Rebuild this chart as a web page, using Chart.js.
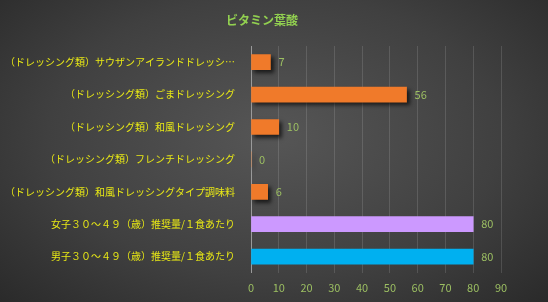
<!DOCTYPE html>
<html>
<head>
<meta charset="utf-8">
<script src="https://cdn.jsdelivr.net/npm/chart.js@4.4.0/dist/chart.umd.min.js"></script>
<style>
    html, body { margin: 0; padding: 0; }
    body {
        width: 548px; height: 302px; overflow: hidden;
        background: radial-gradient(ellipse 75% 85% at 50% 45%, #565656 0%, #404040 55%, #262626 100%);
    }
    #wrap { width: 548px; height: 302px; position: relative; }
</style>
</head>
<body>
<div id="wrap"><canvas id="myChart"></canvas></div>
<script>
const title = 'ビタミン葉酸';
const labels = [
    '（ドレッシング類）サウザンアイランドドレッシ…',
    '（ドレッシング類）ごまドレッシング',
    '（ドレッシング類）和風ドレッシング',
    '（ドレッシング類）フレンチドレッシング',
    '（ドレッシング類）和風ドレッシングタイプ調味料',
    '女子３０～４９（歳）推奨量/１食あたり',
    '男子３０～４９（歳）推奨量/１食あたり'
];
const foodValues = [7, 56, 10, 0, 6, null, null];
const refValues = [null, null, null, null, null, 80, 80];
const xTicks = [0, 10, 20, 30, 40, 50, 60, 70, 80, 90];

const JP = '"Noto Sans CJK JP", "Noto Sans", sans-serif';

// title sits a bit right of the canvas centre, like the original
const titlePlugin = {
    id: 'offsetTitle',
    afterDraw(chart) {
        const ctx = chart.ctx;
        ctx.save();
        ctx.font = 'bold 12px ' + JP;
        ctx.fillStyle = '#92d050';
        ctx.textAlign = 'center';
        ctx.textBaseline = 'middle';
        ctx.fillText(title, 262, 20);
        ctx.restore();
    }
};

// drop shadow on the orange bars only
const shadowPlugin = {
    id: 'barShadow',
    beforeDatasetDraw(chart, args) {
        if (args.index === 0) {
            const ctx = chart.ctx;
            ctx.save();
            ctx.shadowColor = 'rgba(0,0,0,0.65)';
            ctx.shadowBlur = 4;
            ctx.shadowOffsetX = 3;
            ctx.shadowOffsetY = 3;
        }
    },
    afterDatasetDraw(chart, args) {
        if (args.index === 0) chart.ctx.restore();
    }
};

// value labels at the end of each bar
const valueLabels = {
    id: 'valueLabels',
    afterDatasetsDraw(chart) {
        const ctx = chart.ctx;
        ctx.save();
        ctx.font = '11px ' + JP;
        ctx.fillStyle = '#9cbf62';
        ctx.textAlign = 'left';
        ctx.textBaseline = 'middle';
        chart.data.datasets.forEach((ds, i) => {
            chart.getDatasetMeta(i).data.forEach((bar, j) => {
                const v = ds.data[j];
                if (v === null || v === undefined) return;
                ctx.fillText(String(v), bar.x + 8, bar.y);
            });
        });
        ctx.restore();
    }
};

const ctx = document.getElementById('myChart').getContext('2d');
new Chart(ctx, {
    type: 'bar',
    data: {
        labels: labels,
        datasets: [
            {
                data: foodValues,
                backgroundColor: '#f07a2a',
                barThickness: 15
            },
            {
                data: refValues,
                backgroundColor: ['#cc99ff', '#cc99ff', '#cc99ff', '#cc99ff', '#cc99ff', '#cc99ff', '#00b0f0'],
                barThickness: 15
            }
        ]
    },
    options: {
        indexAxis: 'y',
        responsive: true,
        maintainAspectRatio: false,
        animation: false,
        layout: { padding: { left: 4, right: 47, top: 46, bottom: 0 } },
        plugins: {
            legend: { display: false },
            tooltip: { enabled: false },
            title: { display: false }
        },
        scales: {
            x: {
                stacked: true,
                min: 0,
                max: 90,
                afterBuildTicks: scale => { scale.ticks = xTicks.map(v => ({ value: v })); },
                grid: { color: 'rgba(255,255,255,0.13)', drawTicks: false },
                border: { display: false },
                ticks: {
                    color: '#9cbf62',
                    font: { family: JP, size: 11 },
                    padding: 8
                }
            },
            y: {
                stacked: true,
                afterFit: scale => { scale.width = 247; },
                grid: { display: false },
                border: { display: true, color: '#9a9a9a', width: 1 },
                ticks: {
                    color: '#e8e815',
                    font: { family: JP, size: 10 },
                    padding: 8,
                    autoSkip: false
                }
            }
        }
    },
    plugins: [titlePlugin, shadowPlugin, valueLabels]
});
</script>
</body>
</html>
